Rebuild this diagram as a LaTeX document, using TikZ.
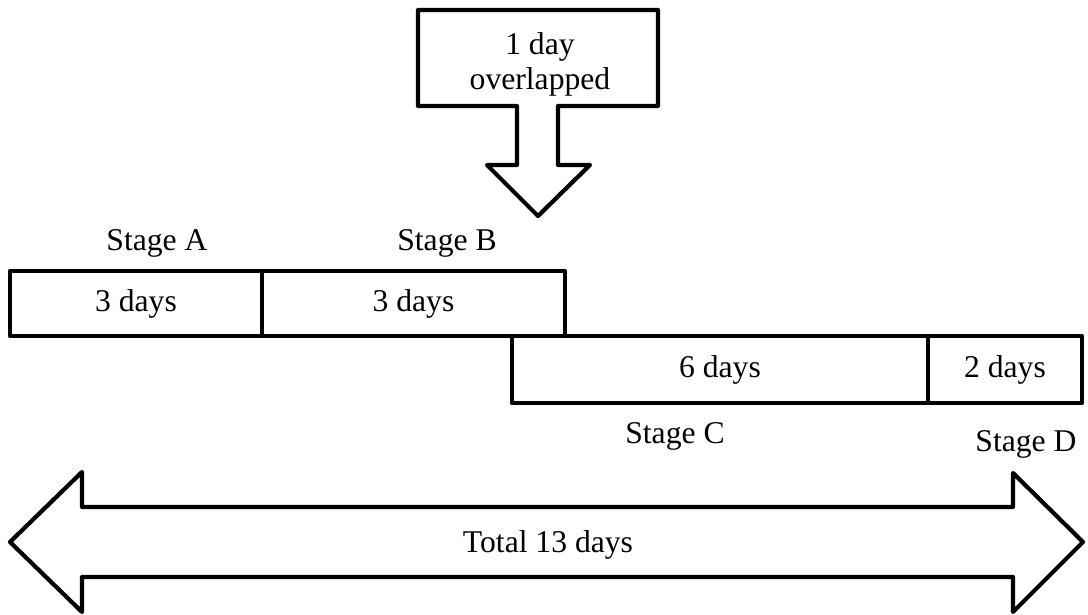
\documentclass[tikz,border=0pt]{standalone}
\usepackage{fontspec}
\setmainfont{Liberation Serif}
\usepackage{tikz}
\usetikzlibrary{positioning}

\begin{document}
\begin{tikzpicture}[x=0.025cm, y=-0.025cm, line width=3pt, line join=round,
    every node/.style={font=\fontsize{22.5}{25}\selectfont, inner sep=0pt},
    daybox/.style={draw, rectangle, minimum height=1.63cm}]
    \useasboundingbox (0,0) rectangle (1088,615);
    % stages
    \node[daybox, minimum width=6.3cm] (A) at (136,303.5) {3 days};
    \node[daybox, minimum width=7.575cm] (B) at (413.5,303.5) {3 days};
    \node[daybox, minimum width=10.4cm, minimum height=1.675cm] (C) at (720,369.5) {6 days};
    \node[daybox, minimum width=3.85cm, minimum height=1.675cm] (D) at (1005,369.5) {2 days};
    \node (la) at (157,243) {Stage A};
    \node (lb) at (447,243) {Stage B};
    \node (lc) at (675,436) {Stage C};
    \node (ld) at (1026,444) {Stage D};
    % overlap callout
    \draw (418,10) -- (658,10) -- (658,106) -- (558,106) -- (558,165) -- (590,165)
        -- (538,216) -- (487,165) -- (517,165) -- (517,106) -- (418,106) -- cycle;
    \node[align=center] (ov) at (540,64) {1 day\\overlapped};
    % total
    \draw (10,542) -- (82,472) -- (82,507) -- (1013,507) -- (1013,473) -- (1083,542)
        -- (1013,612) -- (1013,577) -- (82,577) -- (82,612) -- cycle;
    \node (tot) at (548,545) {Total 13 days};
\end{tikzpicture}
\end{document}
